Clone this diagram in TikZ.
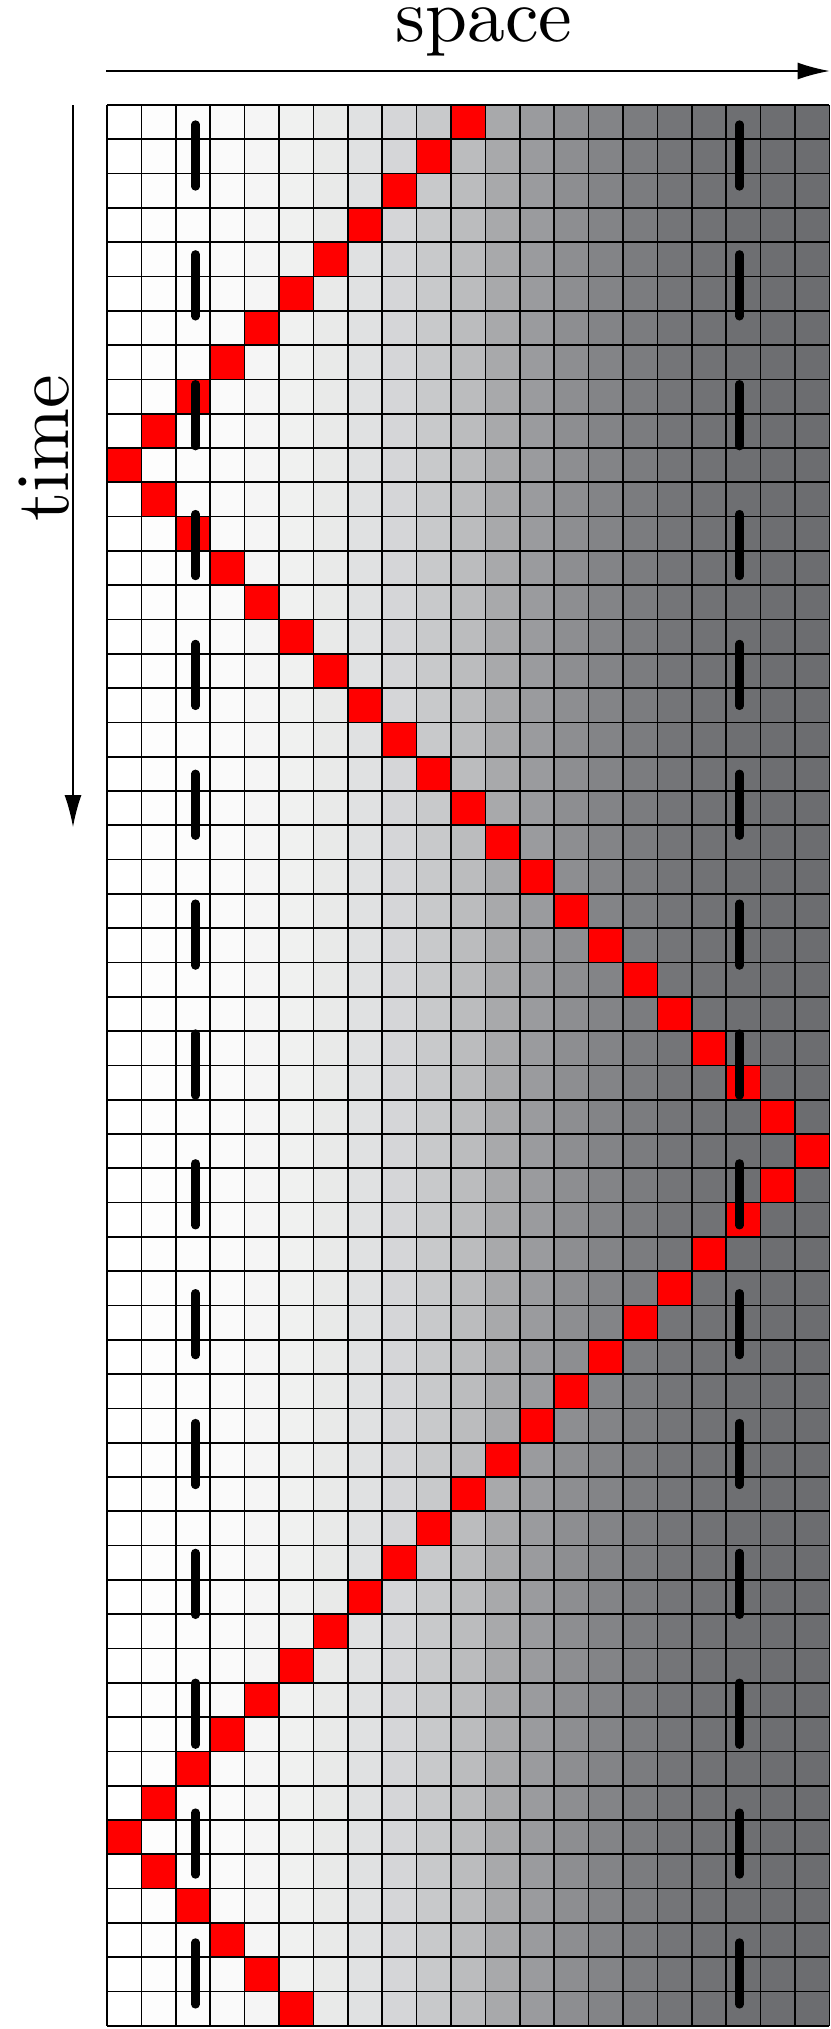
\documentclass[tikz,border=0pt]{standalone}
\usetikzlibrary{arrows.meta}
\definecolor{g0}{HTML}{FFFFFF}
\definecolor{g1}{HTML}{FDFDFD}
\definecolor{g2}{HTML}{FCFCFC}
\definecolor{g3}{HTML}{FAFAFA}
\definecolor{g4}{HTML}{F5F5F5}
\definecolor{g5}{HTML}{F0F1F0}
\definecolor{g6}{HTML}{E9EAE9}
\definecolor{g7}{HTML}{E0E1E2}
\definecolor{g8}{HTML}{D5D6D8}
\definecolor{g9}{HTML}{C8C9CB}
\definecolor{g10}{HTML}{BBBCBE}
\definecolor{g11}{HTML}{A8A9AB}
\definecolor{g12}{HTML}{9A9B9E}
\definecolor{g13}{HTML}{8D8E91}
\definecolor{g14}{HTML}{838487}
\definecolor{g15}{HTML}{7B7C7F}
\definecolor{g16}{HTML}{747578}
\definecolor{g17}{HTML}{717275}
\definecolor{g18}{HTML}{6E6F72}
\definecolor{g19}{HTML}{6D6E71}
\definecolor{g20}{HTML}{6C6D70}
\tikzset{
  gridline/.style={line width=0.85pt, black},
  axisarrow/.style={line width=0.65pt, -{Latex[length=16pt,width=8.5pt]}},
  wall/.style={line width=4.15pt, line cap=round, dash pattern=on 31pt off 33.925pt},
  lbl/.style={font=\fontsize{10}{12}\selectfont, scale=3.78, inner sep=0pt, anchor=base},
}
\begin{document}
\begin{tikzpicture}[x=0.5pt,y=-0.5pt]
\useasboundingbox (0,0) rectangle (830,2029);
% columns
\foreach \i in {0,...,20}{
  \fill[g\i] (107+\i*34.4,105) rectangle (107+\i*34.4+34.4,105+56*34.3);
}
% red path
\foreach \r in {0,...,55}{
  \pgfmathtruncatemacro\m{mod(\r+30,40)}
  \pgfmathtruncatemacro\c{\m<=20 ? \m : 40-\m}
  \fill[red] (107+\c*34.4,105+\r*34.3) rectangle (107+\c*34.4+34.4,105+\r*34.3+34.3);
}
% grid
\foreach \i in {0,...,21}{
  \draw[gridline] (107+\i*34.4,105) -- (107+\i*34.4,105+56*34.3);
}
\foreach \j in {0,...,56}{
  \draw[gridline] (107,105+\j*34.3) -- (107+21*34.4,105+\j*34.3);
}
% walls
\draw[wall] (195.5,124.5) -- (195.5,2026);
\draw[wall] (739.5,124.5) -- (739.5,2026);
% axes
\coordinate (sx0) at (106,71);
\coordinate (sx1) at (829.5,71);
\coordinate (tx0) at (73,105);
\coordinate (tx1) at (73,827);
\draw[axisarrow] (sx0) -- (sx1);
\draw[axisarrow] (tx0) -- (tx1);
\node[lbl] (spacelbl) at (484,41) {space};
\node[lbl, rotate=90] (timelbl) at (68,448) {time};
\end{tikzpicture}
\end{document}
